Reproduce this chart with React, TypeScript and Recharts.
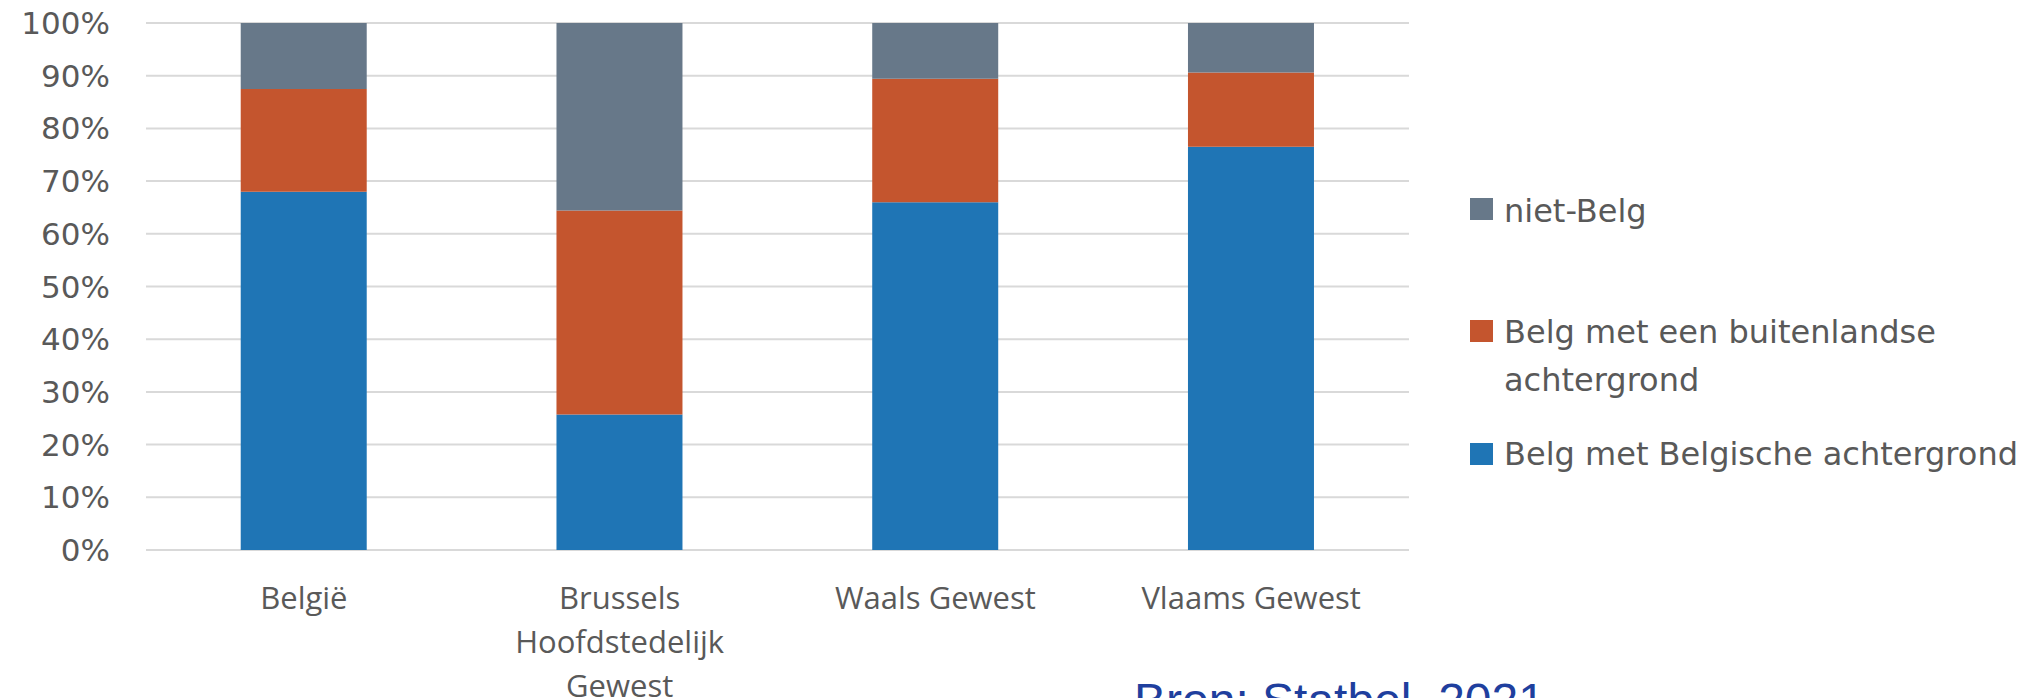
import { BarChart, Bar, XAxis, YAxis, CartesianGrid, Legend } from "recharts";

// regio's en aandelen (%)
const regions = ["België", "Brussels Hoofdstedelijk Gewest", "Waals Gewest", "Vlaams Gewest"];
const belgischeAchtergrond = [68.0, 25.7, 66.0, 76.5];
const buitenlandseAchtergrond = [19.5, 38.7, 23.4, 14.1];
const nietBelg = [12.5, 35.6, 10.6, 9.4];
const yTicks = [0, 10, 20, 30, 40, 50, 60, 70, 80, 90, 100];

const series = [
  { key: "belg", name: "Belg met Belgische achtergrond", color: "#1F75B5" },
  { key: "buiten", name: "Belg met een buitenlandse achtergrond", color: "#C4552E" },
  { key: "niet", name: "niet-Belg", color: "#677889" },
];
const legendOrder = ["niet", "buiten", "belg"];

const data = regions.map((region, i) => ({
  region,
  belg: belgischeAchtergrond[i],
  buiten: buitenlandseAchtergrond[i],
  niet: nietBelg[i],
}));

const GREY_TEXT = "#595959";
const TICK_FONT = "31px 'Open Sans'";

let ctx: CanvasRenderingContext2D | null = null;
function wrapWords(text: string, maxWidth: number) {
  if (!ctx) ctx = document.createElement("canvas").getContext("2d");
  if (ctx) ctx.font = TICK_FONT;
  const measure = (s: string) => (ctx ? ctx.measureText(s).width : s.length * 16);
  const lines: string[] = [];
  let cur = "";
  for (const w of text.split(" ")) {
    const next = cur ? cur + " " + w : w;
    if (cur && measure(next) > maxWidth) {
      lines.push(cur);
      cur = w;
    } else {
      cur = next;
    }
  }
  if (cur) lines.push(cur);
  return lines;
}

const RegionTick = (props: any) => {
  const { x, y, payload } = props;
  const lines = wrapWords(String(payload.value), 240);
  return (
    <text
      x={x}
      y={y}
      textAnchor="middle"
      fill={GREY_TEXT}
      style={{ fontFamily: "'Open Sans'", fontSize: 31 }}
    >
      {lines.map((l, i) => (
        <tspan key={i} x={x} dy={i === 0 ? 22 : 44}>
          {l}
        </tspan>
      ))}
    </text>
  );
};

const rowTop: Record<string, number> = { niet: 187, buiten: 308, belg: 430 };
const markerTop: Record<string, number> = { niet: 198, buiten: 320, belg: 443 };

const renderLegend = (props: any) => {
  const payload: any[] = props.payload ?? [];
  const items = legendOrder
    .map((k) => payload.find((p) => p.dataKey === k))
    .filter(Boolean);
  return (
    <div style={{ position: "relative", width: 0, height: 0 }}>
      {items.map((p: any) => (
        <div key={p.dataKey}>
          <div
            style={{
              position: "absolute",
              left: 1470,
              top: markerTop[p.dataKey],
              width: 23,
              height: 22,
              background: p.color,
            }}
          />
          <div
            style={{
              position: "absolute",
              left: 1504,
              top: rowTop[p.dataKey],
              width: 530,
              fontFamily: "'DejaVu Sans'",
              fontSize: 32,
              lineHeight: "48px",
              color: GREY_TEXT,
              textAlign: "left",
            }}
          >
            {p.value}
          </div>
        </div>
      ))}
    </div>
  );
};

export default function App() {
  return (
    <div
      style={{
        position: "absolute",
        left: 0,
        top: 0,
        width: 2034,
        height: 698,
        overflow: "hidden",
        background: "#fff",
      }}
    >
      <BarChart
        width={2034}
        height={698}
        data={data}
        margin={{ top: 23, right: 625, bottom: 0, left: 0 }}
        barCategoryGap="30%"
      >
        <CartesianGrid vertical={false} stroke="#D9D9D9" strokeWidth={2} />
        <XAxis
          dataKey="region"
          height={148}
          axisLine={false}
          tickLine={false}
          tickSize={0}
          tickMargin={37}
          interval={0}
          tick={<RegionTick />}
        />
        <YAxis
          width={146}
          domain={[0, 100]}
          ticks={yTicks}
          axisLine={false}
          tickLine={false}
          tickSize={0}
          tickMargin={36}
          tickFormatter={(v: number) => `${v}%`}
          tick={{ fontFamily: "'DejaVu Sans'", fontSize: 31, fill: GREY_TEXT }}
        />
        <Legend
          content={renderLegend}
          wrapperStyle={{ left: 0, top: 0, width: 0, height: 0 }}
        />
        {series.map((s) => (
          <Bar
            key={s.key}
            dataKey={s.key}
            name={s.name}
            stackId="a"
            fill={s.color}
            isAnimationActive={false}
          />
        ))}
      </BarChart>
      <div
        style={{
          position: "absolute",
          left: 1134,
          top: 677,
          fontFamily: "'Liberation Sans'",
          fontSize: 48,
          lineHeight: "48px",
          color: "#1F3F9E",
          whiteSpace: "nowrap",
        }}
      >
        Bron: Statbel, 2021
      </div>
    </div>
  );
}
